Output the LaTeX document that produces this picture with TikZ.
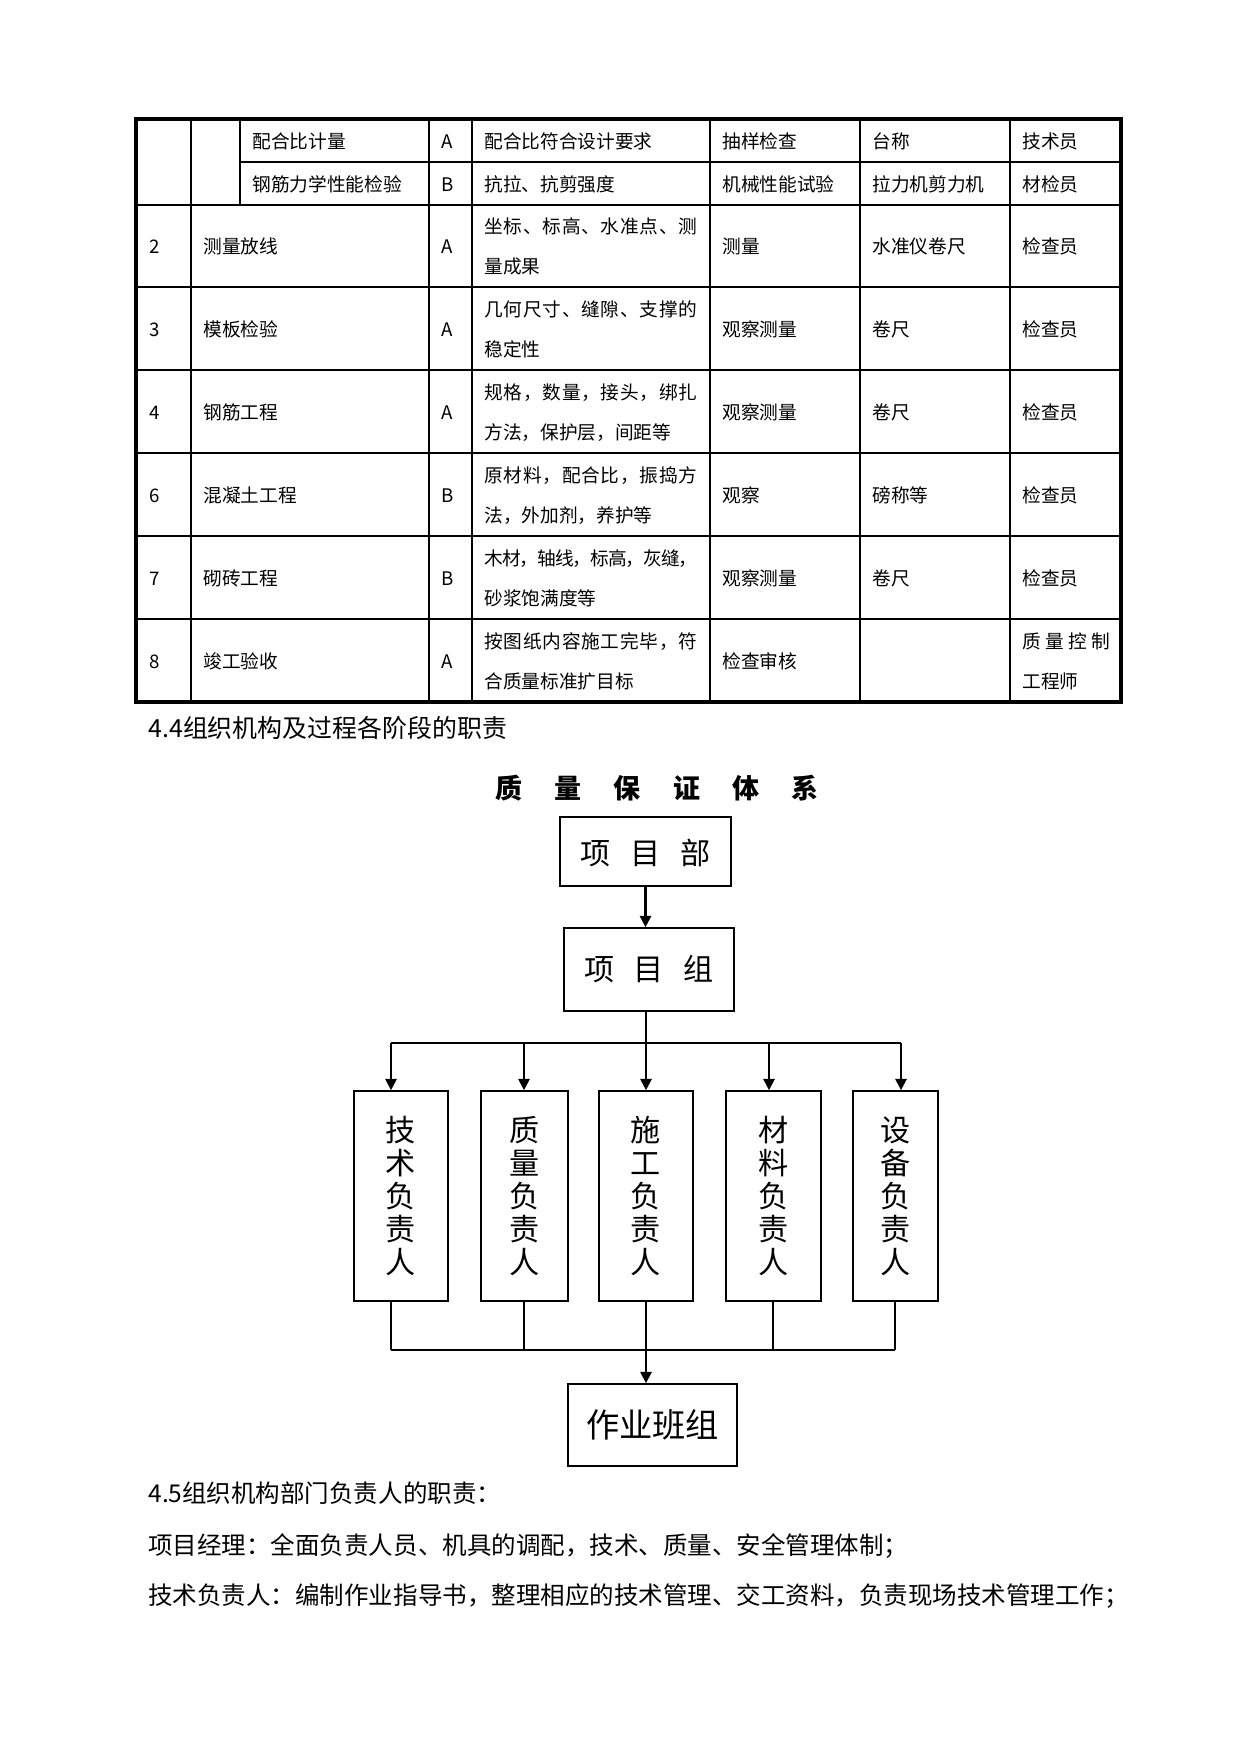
\documentclass[tikz,border=0pt]{standalone}
\usepackage{fontspec}
\setmainfont{Noto Sans CJK SC}
\usepackage{tikz}
\usetikzlibrary{arrows.meta}

\newlength\pxu
\setlength\pxu{0.16922mm}
\makeatletter
\newcommand\spreadline[2]{\hbox to #1\pxu{\expandafter\spread@#2\@nil}}
\def\spread@#1#2\@nil{#1\if\relax\detokenize{#2}\relax\else\hskip 0pt plus 1fil minus 1fil\spread@#2\@nil\fi}
\makeatother

\begin{document}
\begin{tikzpicture}[x=0.016922cm,y=-0.016922cm,
  cell/.style={anchor=west,inner sep=0pt,font=\fontsize{9}{10}\selectfont,text height=0.88em,text depth=0.12em},
  para/.style={anchor=west,inner sep=0pt,font=\fontsize{11.8}{14}\selectfont},
  tblthin/.style={line width=0.5pt},
  tblthick/.style={line width=1pt},
  box/.style={draw,line width=0.8pt,inner sep=0pt,align=center},
  link/.style={line width=1pt},
  lnthin/.style={line width=0.6pt},
  arr/.style={line width=1pt,-{Triangle[length=1.9mm,width=1.9mm]}}]
  \useasboundingbox (0,0) rectangle (1241,1754);

  %table
  \draw[line width=1.5pt] (136,119) rectangle (1121,702);
  \foreach \y in {287,370,453} \draw[tblthin] (136,\y) -- (1121,\y);
  \foreach \y in {205,536,619} \draw[tblthick] (136,\y) -- (1121,\y);
  \draw[tblthin] (240,162) -- (1121,162);
  \foreach \x in {191,710,1010} \draw[tblthin] (\x,119) -- (\x,702);
  \foreach \x in {429,472,860} \draw[tblthick] (\x,119) -- (\x,702);
  \draw[tblthin] (240,119) -- (240,205);

  \node[cell] (xm0) at (252,140.5) {配合比计量};
  \node[cell] (dj0) at (441,140.5) {A};
  \node[cell] (la0) at (484,140.5) {配合比符合设计要求};
  \node[cell] (ff0) at (722,140.5) {抽样检查};
  \node[cell] (gj0) at (872,140.5) {台称};
  \node[cell] (ry0) at (1022,140.5) {技术员};
  \node[cell] (xm1) at (252,183.5) {钢筋力学性能检验};
  \node[cell] (dj1) at (441,183.5) {B};
  \node[cell] (la1) at (484,183.5) {抗拉、抗剪强度};
  \node[cell] (ff1) at (722,183.5) {机械性能试验};
  \node[cell] (gj1) at (872,183.5) {拉力机剪力机};
  \node[cell] (ry1) at (1022,183.5) {材检员};

  \foreach \yc/\n/\xm/\dj/\la/\lb/\ff/\gj/\ry in {
    246/2/测量放线/A/坐标、标高、水准点、测/量成果/测量/水准仪卷尺/检查员,
    328.5/3/模板检验/A/几何尺寸、缝隙、支撑的/稳定性/观察测量/卷尺/检查员,
    411.5/4/钢筋工程/A/规格，数量，接头，绑扎/方法，保护层，间距等/观察测量/卷尺/检查员,
    494.5/6/混凝土工程/B/原材料，配合比，振捣方/法，外加剂，养护等/观察/磅称等/检查员,
    577.5/7/砌砖工程/B/木材，轴线，标高，灰缝，/砂浆饱满度等/观察测量/卷尺/检查员}{
    \node[cell] (xh\n) at (149,\yc) {\n};
    \node[cell] (xm\n) at (203,\yc) {\xm};
    \node[cell] (dj\n) at (441,\yc) {\dj};
    \node[cell] (la\n) at (484,\yc-20) {\spreadline{213}{\la}};
    \node[cell] (lb\n) at (484,\yc+20) {\lb};
    \node[cell] (ff\n) at (722,\yc) {\ff};
    \node[cell] (gj\n) at (872,\yc) {\gj};
    \node[cell] (ry\n) at (1022,\yc) {\ry};
  }
  \node[cell] (xh8) at (149,660.5) {8};
  \node[cell] (xm8) at (203,660.5) {竣工验收};
  \node[cell] (dj8) at (441,660.5) {A};
  \node[cell] (la8) at (484,640.5) {\spreadline{213}{按图纸内容施工完毕，符}};
  \node[cell] (lb8) at (484,680.5) {合质量标准扩目标};
  \node[cell] (ff8) at (722,660.5) {检查审核};
  \node[cell] (rya8) at (1022,640.5) {\spreadline{88}{质量控制}};
  \node[cell] (ryb8) at (1022,680.5) {工程师};

  \node[para,font=\fontsize{12}{14}\selectfont] (h44) at (148,728) {4.4组织机构及过程各阶段的职责};

  %chart
  \node[font=\bfseries\fontsize{13}{15}\selectfont] (bt) at (657,788) {质\hspace{1.2em}量\hspace{1.2em}保\hspace{1.2em}证\hspace{1.2em}体\hspace{1.2em}系};
  \node[box,minimum width=171\pxu,minimum height=69\pxu,font=\fontsize{14.5}{16}\selectfont,text height=1.22em,text depth=0pt] (xmb) at (645.5,851.5) {项\hspace{0.65em}目\hspace{0.65em}部};
  \node[box,minimum width=170\pxu,minimum height=83\pxu,font=\fontsize{14.5}{16}\selectfont] (xmz) at (649,969.5) {项\hspace{0.65em}目\hspace{0.65em}组};
  \foreach \n/\x/\w/\txt in {js/401/94/技\\术\\负\\责\\人,zl/524.5/87/质\\量\\负\\责\\人,sg/646/94/施\\工\\负\\责\\人,cl/773.5/95/材\\料\\负\\责\\人,sb/895.5/85/设\\备\\负\\责\\人}
    \node[box,minimum width=\w\pxu,minimum height=210\pxu,font=\fontsize{14.5}{15.9}\selectfont] (\n) at (\x,1196) {\txt};
  \node[box,minimum width=169\pxu,minimum height=82\pxu,font=\fontsize{16}{18}\selectfont] (bz) at (652.5,1425) {作业班组};

  \draw[arr] (xmb.south) -- (xmb.south |- xmz.north);
  \foreach \n/\x in {js/391,zl/524,sg/646,cl/769,sb/901} {
    \coordinate (t\n) at (\x,1043);
    \draw[arr] (t\n) -- (t\n |- \n.north);
  }
  \draw[link] (tjs) -- (tsb);
  \draw[link] (xmz.south -| tsg) -- (tsg);
  \foreach \n/\x in {js/391,zl/524,sg/647,cl/773,sb/895} \coordinate (b\n) at (\x,1350);
  \foreach \n in {js,zl,sb} \draw[lnthin] (b\n |- \n.south) -- (b\n);
  \draw[link] (bcl |- cl.south) -- (bcl);
  \draw[lnthin] (bjs) -- (bsb);
  \draw[arr] (sg.south) -- (sg.south |- bz.north);

  %text
  \node[para] (h45) at (148,1493) {4.5组织机构部门负责人的职责：};
  \node[para] (p1) at (148,1546) {项目经理：全面负责人员、机具的调配，技术、质量、安全管理体制；};
  \node[para] (p2) at (148,1596) {技术负责人：编制作业指导书，整理相应的技术管理、交工资料，负责现场技术管理工作；};
\end{tikzpicture}
\end{document}
